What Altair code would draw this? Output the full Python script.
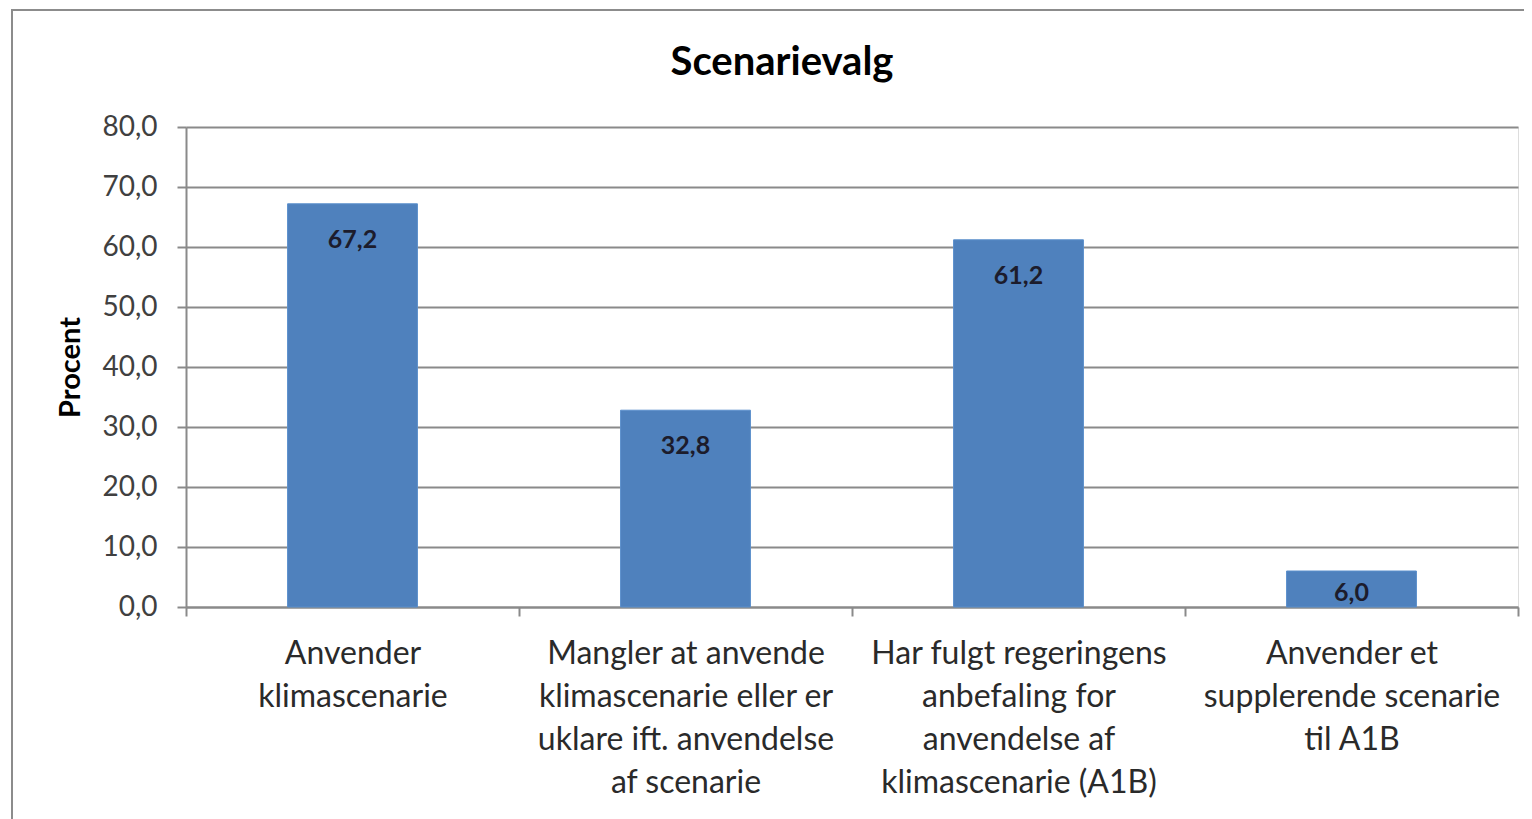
import altair as alt
import pandas as pd

title_text = "Scenarievalg"
y_title = "Procent"
categories = [
    "Anvender|klimascenarie",
    "Mangler at anvende|klimascenarie eller er|uklare ift. anvendelse|af scenarie",
    "Har fulgt regeringens|anbefaling for|anvendelse af|klimascenarie (A1B)",
    "Anvender et|supplerende scenarie|til A1B",
]
values = [67.2, 32.8, 61.2, 6.0]
y_ticks = [0, 10, 20, 30, 40, 50, 60, 70, 80]

df = pd.DataFrame({"kategori": categories, "procent": values})

FONT = "Lato"
GRID = "#8a8a8a"

x_enc = alt.X(
    "kategori:N",
    sort=None,
    scale=alt.Scale(paddingInner=0, paddingOuter=0),
    axis=alt.Axis(
        title=None,
        labelAngle=0,
        labelExpr="split(datum.label, '|')",
        labelFont=FONT,
        labelFontSize=32,
        labelColor="#2a2a2a",
        labelLineHeight=43,
        labelPadding=22,
        labelBaseline="top",
        labelLimit=0,
        tickBand="extent",
        tickSize=9,
        tickColor=GRID,
        tickWidth=2,
        domainColor=GRID,
        domainWidth=2,
        grid=False,
    ),
)

y_axis = alt.Axis(
    title=y_title,
    titleFont=FONT,
    titleFontSize=29,
    titleFontWeight="bold",
    titleColor="#000000",
    titleX=-116,
    titleY=240,
    titleAngle=-90,
    titleAlign="center",
    titleBaseline="middle",
    values=y_ticks,
    labelExpr="replace(format(datum.value, '.1f'), '.', ',')",
    labelFont=FONT,
    labelFontSize=28,
    labelColor="#404040",
    labelPadding=20,
    tickSize=9,
    tickColor=GRID,
    tickWidth=2,
    domainColor=GRID,
    domainWidth=2,
    gridColor=GRID,
    gridWidth=2,
)
y_scale = alt.Scale(domain=[0, 80], nice=False)

bars = alt.Chart(df).mark_bar(
    color="#4F81BD", stroke="#5b8fcc", strokeWidth=1, width=alt.RelativeBandSize(0.39)
).encode(
    x=x_enc,
    y=alt.Y("procent:Q", scale=y_scale, axis=y_axis),
)

labels = alt.Chart(df).transform_calculate(
    lbl="replace(format(datum.procent, '.1f'), '.', ',')",
    pos="max(datum.procent - 6.0, datum.procent * 0.4)",
).mark_text(
    font=FONT, fontSize=25, fontWeight="bold", color="#1c1c2c", baseline="middle",
).encode(
    x=alt.X("kategori:N", sort=None),
    y=alt.Y("pos:Q", scale=y_scale),
    text="lbl:N",
)

border_df = pd.DataFrame({"b": [1]})
border = alt.Chart(border_df).mark_rect(
    fillOpacity=0, stroke="#8c8c8c", strokeWidth=2
).encode(
    x=alt.value(-174), x2=alt.value(1400), y=alt.value(-117), y2=alt.value(760)
)

title_df = pd.DataFrame({"t": [title_text]})
title = alt.Chart(title_df).mark_text(
    font=FONT, fontSize=40, fontWeight="bold", color="#000000",
    align="center", baseline="middle",
).encode(x=alt.value(596), y=alt.value(-64), text="t:N")

chart = alt.layer(border, title, bars, labels).properties(
    width=1332,
    height=480,
    padding={"left": 178, "top": 119, "right": 6, "bottom": 215},
    autosize=alt.AutoSizeParams(type="none"),
).configure_view(stroke=None).configure(background="white")

chart.save("out.html", embed_options={"renderer": "svg", "actions": False})
